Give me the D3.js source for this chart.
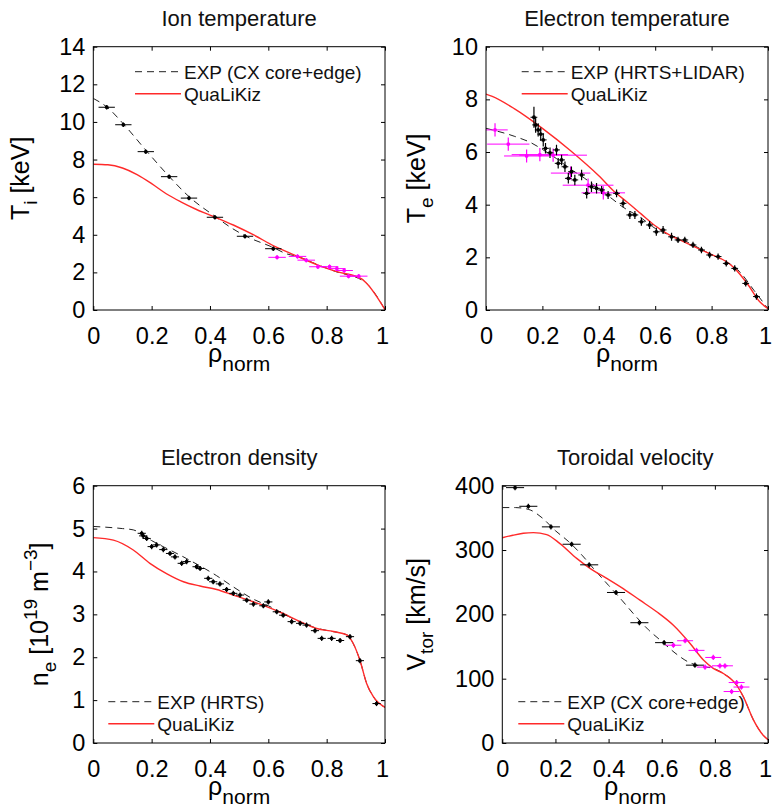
<!DOCTYPE html>
<html>
<head>
<meta charset="utf-8">
<script src="https://cdn.jsdelivr.net/npm/d3@7"></script>
<style>
  html, body { margin: 0; padding: 0; background: #fff; }
  svg { display: block; font-family: "Liberation Sans", Arial, Helvetica, sans-serif; }
</style>
</head>
<body>
<svg id="chart" width="772" height="809"></svg>
<script>
// ---------------- DATA ----------------
const xTicks = [0, 0.2, 0.4, 0.6, 0.8, 1];
const xTickLabels = ["0", "0.2", "0.4", "0.6", "0.8", "1"];

// Ion temperature
const tiTicks = [0, 2, 4, 6, 8, 10, 12, 14];
const tiExp = [[0,11.25],[0.05,10.75],[0.1,9.95],[0.18,8.5],[0.26,7.1],[0.33,6.0],[0.42,4.95],[0.47,4.4],[0.52,3.95],[0.62,3.3],[0.66,3.0],[0.7,2.85],[0.77,2.4],[0.83,2.05],[0.93,1.5],[1.0,0.02]];
const tiQlk = [[0,7.75],[0.05,7.72],[0.1,7.55],[0.15,7.2],[0.2,6.72],[0.25,6.18],[0.3,5.75],[0.35,5.37],[0.4,5.05],[0.48,4.52],[0.55,3.99],[0.62,3.4],[0.69,2.92],[0.77,2.39],[0.835,2.04],[0.92,1.65],[0.935,1.45],[1.0,0.02]];
const tiCxCore = [[0.046,10.78],[0.103,9.85],[0.18,8.42],[0.26,7.09],[0.328,5.95],[0.417,4.93],[0.52,3.92],[0.617,3.26]];
const tiCxEdge = [[0.63,2.8],[0.70,2.85],[0.73,2.65],[0.77,2.3],[0.81,2.3],[0.835,2.2],[0.86,2.1],[0.875,1.8],[0.91,1.8]];

// Electron temperature
const teTicks = [0, 2, 4, 6, 8, 10];
const teExp = [[0,6.9],[0.1,6.6],[0.16,6.35],[0.2,6.1],[0.25,5.75],[0.3,5.35],[0.35,5.0],[0.4,4.6],[0.45,4.2],[0.48,3.95],[0.55,3.5],[0.6,3.1],[0.65,2.85],[0.7,2.65],[0.8,2.1],[0.85,1.85],[0.9,1.45],[0.95,0.75],[1.0,0.05]];
const teQlk = [[0,8.2],[0.02,8.12],[0.1,7.65],[0.2,6.9],[0.3,6.05],[0.4,5.1],[0.46,4.45],[0.5,4.1],[0.55,3.65],[0.6,3.2],[0.65,2.85],[0.7,2.6],[0.75,2.35],[0.8,2.1],[0.85,1.85],[0.88,1.6],[0.93,0.95],[0.97,0.32],[1.0,0.05]];
const teHrts = [[0.17,7.32],[0.176,7.03],[0.185,6.84],[0.194,6.68],[0.203,6.46],[0.211,6.14],[0.227,5.97],[0.25,6.08],[0.256,5.57],[0.268,5.7],[0.28,5.44],[0.292,5.0],[0.303,5.25],[0.315,4.94],[0.339,5.13],[0.357,4.43],[0.374,4.68],[0.392,4.62],[0.41,4.56],[0.433,4.37],[0.463,4.43],[0.486,4.05],[0.51,3.61],[0.528,3.61],[0.551,3.35],[0.58,3.23],[0.604,2.97],[0.628,3.04],[0.658,2.78],[0.681,2.66],[0.705,2.66],[0.734,2.47],[0.764,2.28],[0.793,2.09],[0.823,2.03],[0.852,1.77],[0.882,1.58],[0.921,1.01],[0.959,0.51]];
const teHrtsErr = [0.4,0.3,0.25,0.25,0.25,0.2,0.2,0.2,0.2,0.2,0.2,0.2,0.2,0.2,0.2,0.2,0.2,0.2,0.15,0.15,0.15,0.15,0.15,0.15,0.15,0.15,0.15,0.15,0.15,0.12,0.12,0.12,0.12,0.12,0.12,0.12,0.12,0.12,0.12];
const teLidar = [[0.032,6.84],[0.079,6.3],[0.144,5.85],[0.191,5.9],[0.238,5.88],[0.3,5.2],[0.362,4.74],[0.416,4.45]];
const teLidarXerr = [0.045,0.075,0.08,0.1,0.12,0.07,0.09,0.077];

// Electron density
const neTicks = [0, 1, 2, 3, 4, 5, 6];
const neExp = [[0,5.05],[0.1,5.0],[0.137,4.97],[0.2,4.72],[0.32,4.3],[0.423,3.9],[0.48,3.64],[0.55,3.35],[0.6,3.2],[0.65,3.02],[0.7,2.85],[0.77,2.67],[0.82,2.6],[0.87,2.52],[0.891,2.32],[0.914,1.93],[0.937,1.39],[0.96,1.08],[1.0,0.83]];
const neQlk = [[0,4.79],[0.069,4.73],[0.137,4.5],[0.194,4.19],[0.251,3.95],[0.309,3.76],[0.366,3.66],[0.423,3.58],[0.48,3.45],[0.537,3.32],[0.594,3.18],[0.651,3.02],[0.709,2.83],[0.766,2.67],[0.823,2.6],[0.869,2.52],[0.891,2.32],[0.914,1.93],[0.937,1.39],[0.96,1.08],[1.0,0.83]];
const neHrts = [[0.166,4.89],[0.171,4.83],[0.183,4.77],[0.2,4.58],[0.217,4.62],[0.24,4.51],[0.263,4.42],[0.28,4.34],[0.303,4.19],[0.32,4.23],[0.354,4.11],[0.366,4.07],[0.394,3.84],[0.411,3.76],[0.434,3.71],[0.457,3.58],[0.48,3.49],[0.503,3.45],[0.526,3.33],[0.549,3.24],[0.583,3.2],[0.6,3.29],[0.629,3.06],[0.651,2.98],[0.68,2.83],[0.709,2.79],[0.731,2.75],[0.76,2.62],[0.783,2.44],[0.817,2.44],[0.846,2.39],[0.88,2.48],[0.914,1.92],[0.971,0.92]];

// Toroidal velocity
const vTicks = [0, 100, 200, 300, 400];
const vExp = [[0,366],[0.05,366],[0.1,363],[0.15,350],[0.2,330],[0.25,313],[0.3,292],[0.35,268],[0.4,245],[0.45,222],[0.5,198],[0.55,176],[0.6,158],[0.65,140],[0.7,126],[0.75,119],[0.794,116],[0.832,108],[0.882,90],[0.907,72],[0.945,36],[0.982,12],[1.0,5]];
const vQlk = [[0,319],[0.04,323],[0.079,326],[0.117,327],[0.167,324],[0.217,310],[0.28,287],[0.33,271.5],[0.393,256],[0.455,240],[0.518,222],[0.581,204],[0.644,183],[0.706,155],[0.757,129],[0.794,116],[0.832,108],[0.882,90],[0.907,72],[0.945,36],[0.982,12],[1.0,5]];
const vCxCore = [[0.048,397],[0.098,368],[0.183,336],[0.261,309],[0.327,277],[0.428,234],[0.516,187],[0.609,156],[0.725,121]];
const vCxEdge = [[0.644,152],[0.688,159],[0.731,144],[0.763,118],[0.794,133],[0.819,120],[0.838,120],[0.882,94],[0.863,80],[0.9,87]];

const titles = ["Ion temperature", "Electron temperature", "Electron density", "Toroidal velocity"];
const expLabels = ["EXP (CX core+edge)", "EXP (HRTS+LIDAR)", "EXP (HRTS)", "EXP (CX core+edge)"];
const qlkLabel = "QuaLiKiz";

// ---------------- LAYOUT ----------------
const svg = d3.select("#chart");
const FONT_TICK = 23.5, FONT_TITLE = 22, FONT_LEG = 19, FONT_LAB = 25, FONT_SUB = 19;
const RED = "#ff2a2a", MAG = "#ff00ff";

const panels = [
  { box: [93.3, 385, 46.7, 310], ydom: [0, 14], yticks: tiTicks, exp: tiExp, qlk: tiQlk,
    pts: [ {d: tiCxCore, c: "#000", xe: () => 0.028, ye: () => 0.12},
           {d: tiCxEdge, c: MAG, xe: () => 0.03, ye: () => 0.12} ],
    leg: { x: 135, y: 71.7 }, ylab: { x: 29, sub: "i", kind: "T" } },
  { box: [486, 768, 46.7, 310], ydom: [0, 10], yticks: teTicks, exp: teExp, qlk: teQlk,
    pts: [ {d: teLidar, c: MAG, xe: (d,i) => teLidarXerr[i], ye: () => 0.25},
           {d: teHrts, c: "#000", xe: () => 0.012, ye: (d,i) => teHrtsErr[i]} ],
    leg: { x: 521.7, y: 71.7 }, ylab: { x: 425, sub: "e", kind: "T" } },
  { box: [93.3, 385, 485.7, 743], ydom: [0, 6], yticks: neTicks, exp: neExp, qlk: neQlk,
    pts: [ {d: neHrts, c: "#000", xe: () => 0.014, ye: () => 0.06} ],
    leg: { x: 108.3, y: 701.7 }, ylab: { x: 48, kind: "n" } },
  { box: [502.3, 768, 485.7, 743], ydom: [0, 400], yticks: vTicks, exp: vExp, qlk: vQlk,
    pts: [ {d: vCxCore, c: "#000", xe: () => 0.034, ye: () => 4},
           {d: vCxEdge, c: MAG, xe: () => 0.03, ye: () => 4} ],
    leg: { x: 518.3, y: 701.7 }, ylab: { x: 425, kind: "V" } }
];

panels.forEach((p, k) => {
  const [l, r, t, b] = p.box;
  const x = d3.scaleLinear().domain([0, 1]).range([l, r]);
  const y = d3.scaleLinear().domain(p.ydom).range([b, t]);
  const g = svg.append("g");

  const clipId = "clip" + k;
  svg.append("clipPath").attr("id", clipId)
    .append("rect").attr("x", l).attr("y", t).attr("width", r - l).attr("height", b - t);

  // axes: ticks inward on all four sides
  const tl = 4;
  g.append("g").attr("transform", `translate(0,${b})`)
    .call(d3.axisBottom(x).tickValues(xTicks).tickSize(-tl).tickPadding(16).tickFormat((d, i) => xTickLabels[i]))
    .call(a => a.select(".domain").remove())
    .call(a => a.selectAll("text").attr("font-size", FONT_TICK).attr("font-family", null).attr("fill", "#000").attr("dy", "0.77em"))
    .call(a => a.selectAll(".tick").filter(d => d === 1).select("text").attr("dx", -3));
  g.append("g").attr("transform", `translate(0,${t})`)
    .call(d3.axisTop(x).tickValues(xTicks).tickSize(-tl).tickFormat(""))
    .call(a => a.select(".domain").remove());
  g.append("g").attr("transform", `translate(${l},0)`)
    .call(d3.axisLeft(y).tickValues(p.yticks).tickSize(-tl).tickPadding(8).tickFormat(d3.format("d")))
    .call(a => a.select(".domain").remove())
    .call(a => a.selectAll("text").attr("font-size", FONT_TICK).attr("font-family", null).attr("fill", "#000"));
  g.append("g").attr("transform", `translate(${r},0)`)
    .call(d3.axisRight(y).tickValues(p.yticks).tickSize(-tl).tickFormat(""))
    .call(a => a.select(".domain").remove());
  g.selectAll(".tick line").attr("stroke", "#000").attr("stroke-width", 1);

  // lines
  const line = d3.line().x(d => x(d[0])).y(d => y(d[1])).curve(d3.curveMonotoneX);
  const plot = g.append("g").attr("clip-path", `url(#${clipId})`);
  plot.append("path").datum(p.exp).attr("d", line).attr("fill", "none")
    .attr("stroke", "#222").attr("stroke-width", 1).attr("stroke-dasharray", "7,5");
  plot.append("path").datum(p.qlk).attr("d", line).attr("fill", "none")
    .attr("stroke", RED).attr("stroke-width", 1.4);

  // error-bar points
  p.pts.forEach(s => {
    const eg = plot.append("g");
    s.d.forEach((d, i) => {
      const xe = s.xe(d, i), ye = s.ye(d, i);
      eg.append("line").attr("x1", x(d[0] - xe)).attr("x2", x(d[0] + xe))
        .attr("y1", y(d[1])).attr("y2", y(d[1])).attr("stroke", s.c).attr("stroke-width", 1);
      eg.append("line").attr("x1", x(d[0])).attr("x2", x(d[0]))
        .attr("y1", y(d[1] - ye)).attr("y2", y(d[1] + ye)).attr("stroke", s.c).attr("stroke-width", 1.2);
      eg.append("circle").attr("cx", x(d[0])).attr("cy", y(d[1])).attr("r", 1.9).attr("fill", s.c);
    });
  });

  // frame
  g.append("rect").attr("x", l).attr("y", t).attr("width", r - l).attr("height", b - t)
    .attr("fill", "none").attr("stroke", "#000").attr("stroke-width", 1);

  // title
  g.append("text").attr("x", (l + r) / 2).attr("y", t - 20.5).attr("text-anchor", "middle")
    .attr("font-size", FONT_TITLE).attr("fill", "#111").text(titles[k]);

  // x label
  const xl = g.append("text").attr("x", (l + r) / 2).attr("y", b + 52).attr("text-anchor", "middle")
    .attr("font-size", FONT_LAB).attr("fill", "#000");
  xl.append("tspan").text("ρ");
  xl.append("tspan").attr("dy", 9).attr("font-size", 21).text("norm");

  // y label
  const yl = g.append("text").attr("transform", `translate(${p.ylab.x},${(t + b) / 2}) rotate(-90)`)
    .attr("text-anchor", "middle").attr("font-size", FONT_LAB).attr("fill", "#000");
  if (p.ylab.kind === "T") {
    yl.append("tspan").text("T");
    yl.append("tspan").attr("dy", 8).attr("font-size", FONT_SUB).text(p.ylab.sub);
    yl.append("tspan").attr("dy", -8).text(" [keV]");
  } else if (p.ylab.kind === "n") {
    yl.append("tspan").text("n");
    yl.append("tspan").attr("dy", 8).attr("font-size", FONT_SUB).text("e");
    yl.append("tspan").attr("dy", -8).text(" [10");
    yl.append("tspan").attr("dy", -11).attr("font-size", FONT_SUB).text("19");
    yl.append("tspan").attr("dy", 11).text(" m");
    yl.append("tspan").attr("dy", -11).attr("font-size", FONT_SUB).text("−3");
    yl.append("tspan").attr("dy", 11).text("]");
  } else {
    yl.append("tspan").text("V");
    yl.append("tspan").attr("dy", 8).attr("font-size", FONT_SUB).text("tor");
    yl.append("tspan").attr("dy", -8).text(" [km/s]");
  }

  // legend
  const lg = g.append("g");
  const L = p.leg;
  lg.append("line").attr("x1", L.x).attr("x2", L.x + 46).attr("y1", L.y).attr("y2", L.y)
    .attr("stroke", "#222").attr("stroke-width", 1).attr("stroke-dasharray", "7,5");
  lg.append("text").attr("x", L.x + 49).attr("y", L.y + 7).attr("font-size", FONT_LEG).attr("fill", "#111").text(expLabels[k]);
  lg.append("line").attr("x1", L.x).attr("x2", L.x + 46).attr("y1", L.y + 22).attr("y2", L.y + 22)
    .attr("stroke", RED).attr("stroke-width", 1.4);
  lg.append("text").attr("x", L.x + 49).attr("y", L.y + 29).attr("font-size", FONT_LEG).attr("fill", "#111").text(qlkLabel);
});
</script>
</body>
</html>
